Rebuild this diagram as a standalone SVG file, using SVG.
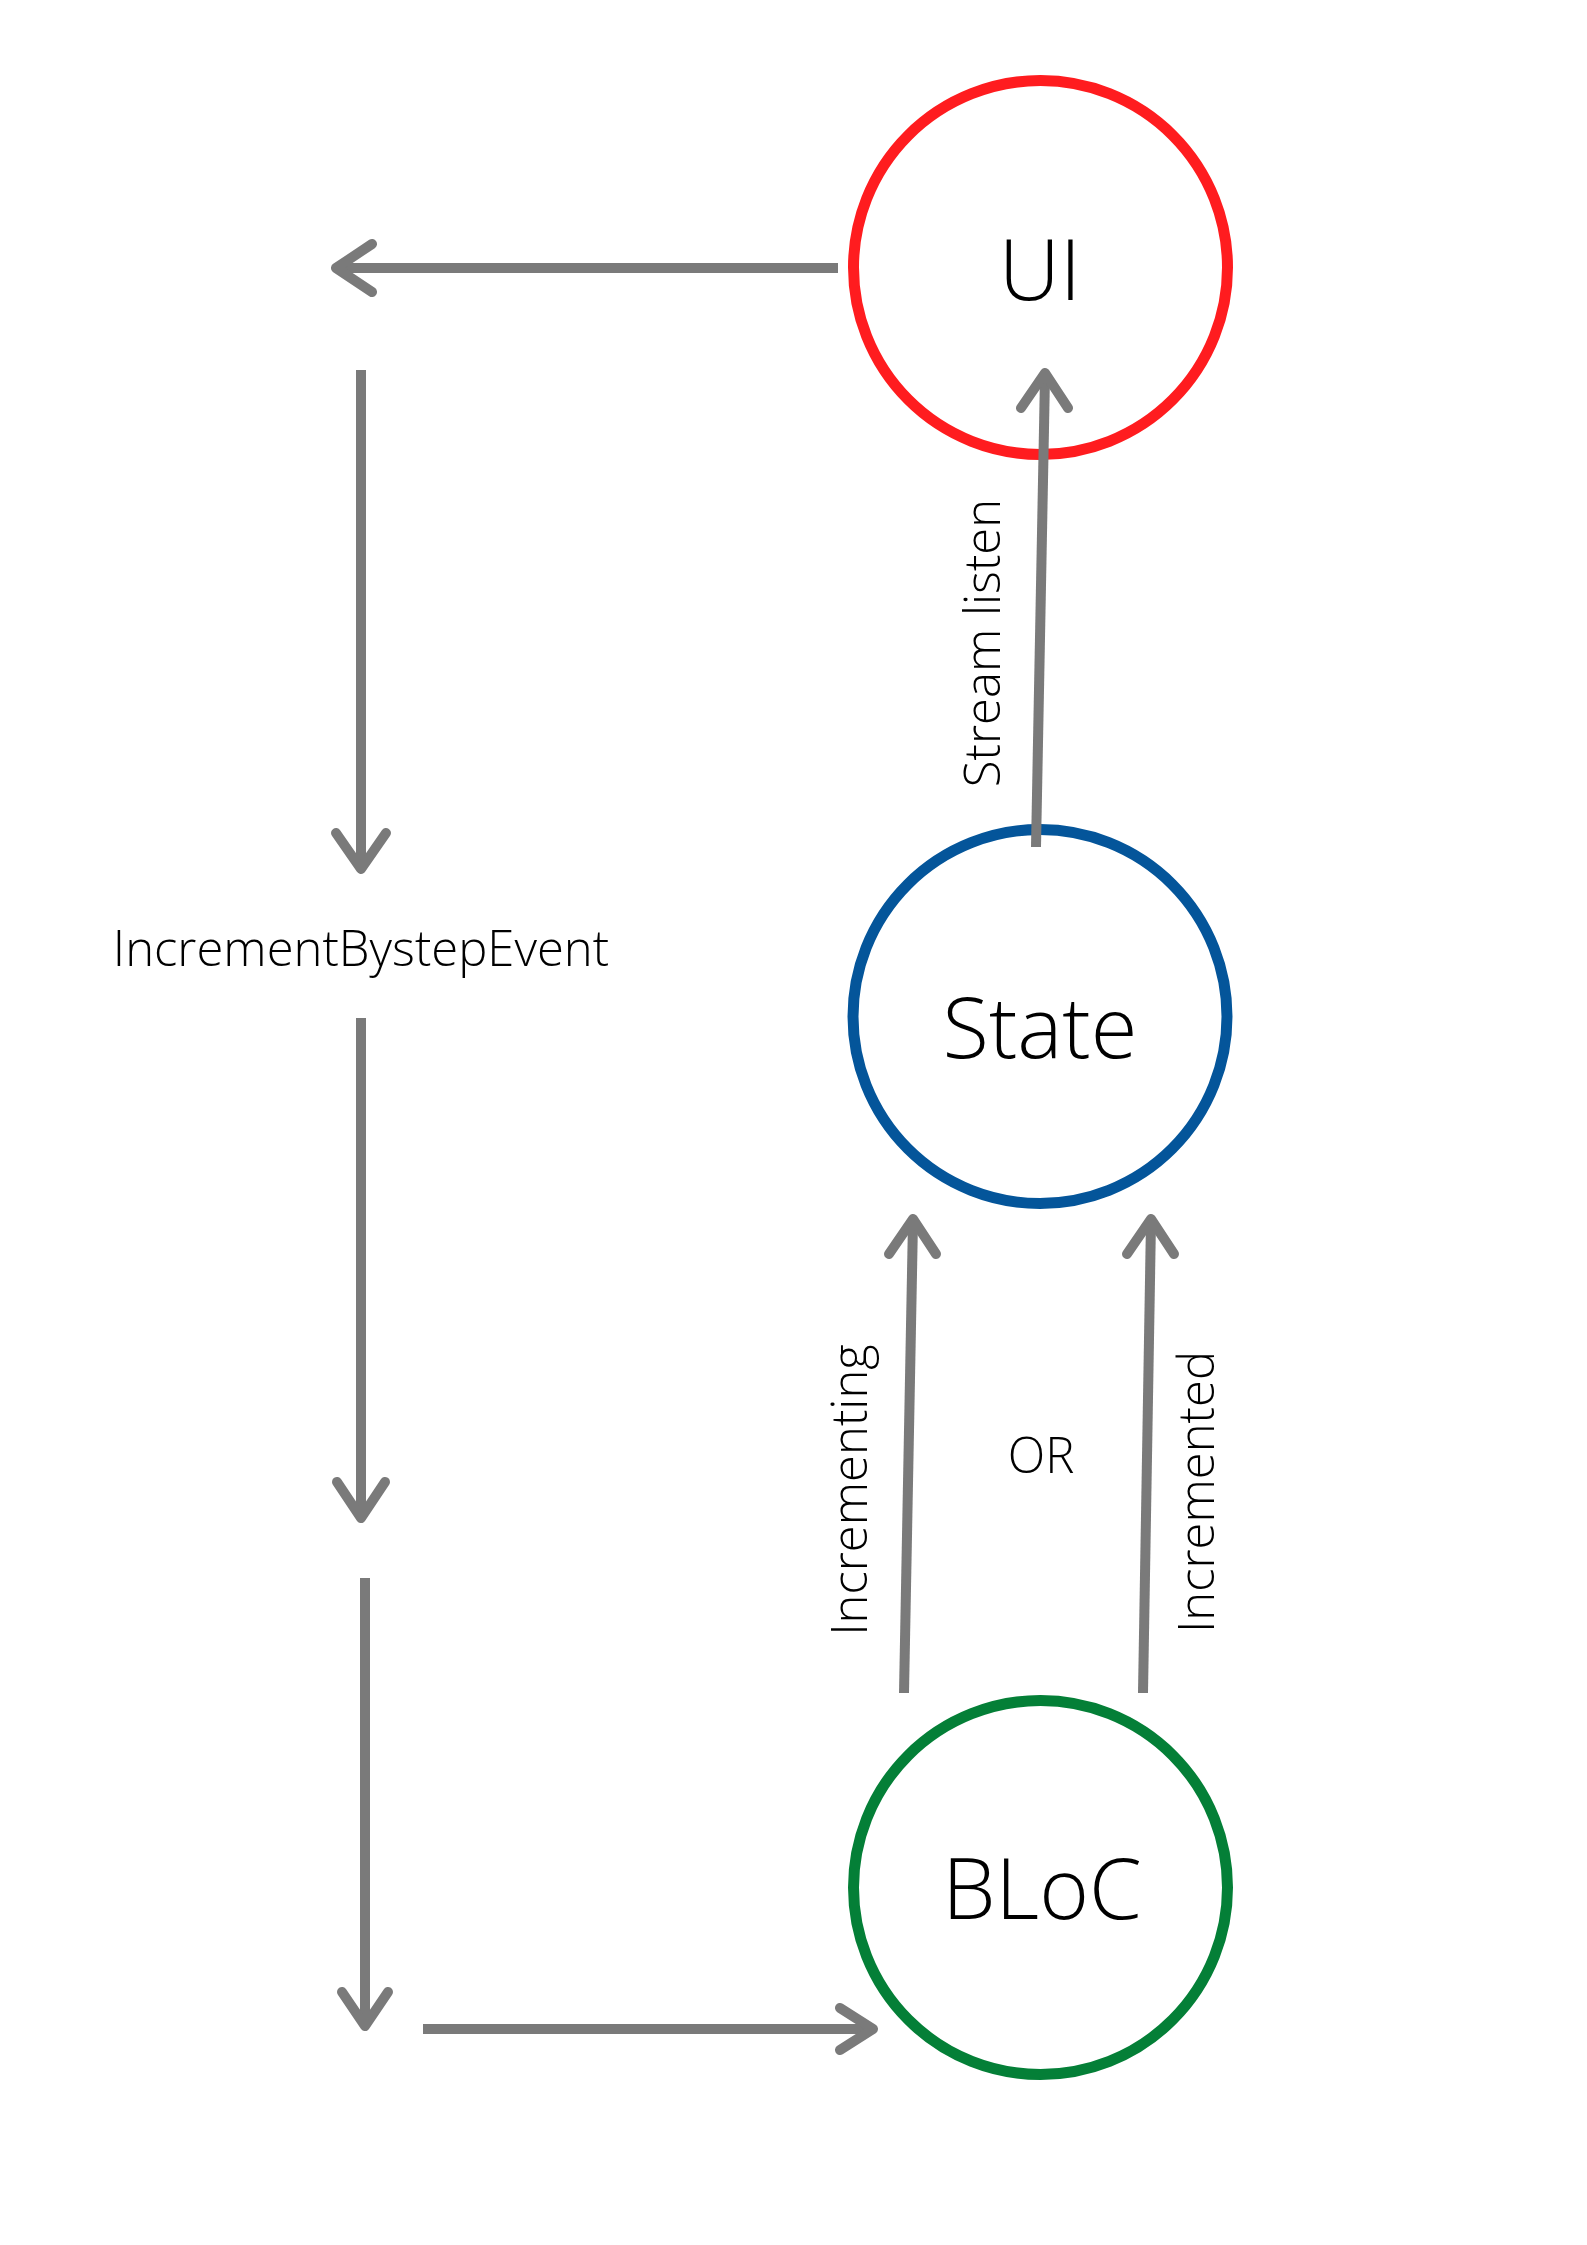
<svg xmlns="http://www.w3.org/2000/svg" width="1587" height="2245" viewBox="0 0 1587 2245">
  <style>
    .node { fill: #ffffff; stroke-width: 11; }
    .lbl { font-family: "Open Sans", "Noto Sans", "DejaVu Sans", sans-serif; font-weight: 300; fill: #000000; text-anchor: middle; }
    .big { font-size: 85px; }
    .small { font-size: 49px; }
    .line { stroke: #7a7a7a; stroke-width: 10; fill: none; stroke-linecap: butt; }
    .head { stroke: #7a7a7a; stroke-width: 10; fill: none; stroke-linecap: round; stroke-linejoin: round; }
  </style>
  <rect width="1587" height="2245" fill="#ffffff"/>

  <g id="node-ui">
    <circle class="node" cx="1040.5" cy="267.5" r="187" stroke="#ff1c1f"/>
    <text class="lbl big" x="1040" y="300">UI</text>
  </g>
  <g id="node-state">
    <circle class="node" cx="1040" cy="1016.5" r="187" stroke="#04559a"/>
    <text class="lbl big" x="1040" y="1058">State</text>
  </g>
  <g id="node-bloc">
    <circle class="node" cx="1040.5" cy="1887.5" r="187" stroke="#047f37"/>
    <text class="lbl big" x="1042" y="1919">BLoC</text>
  </g>

  <g id="connectors">
    <!-- UI -> left -->
    <line class="line" x1="838" y1="268" x2="337" y2="268"/>
    <polyline class="head" points="372,244 336,268 372,292"/>
    <!-- down 1 -->
    <line class="line" x1="361" y1="370" x2="361" y2="868"/>
    <polyline class="head" points="336,833 361,869 386,833"/>
    <!-- down 2 -->
    <line class="line" x1="361" y1="1018" x2="361" y2="1516"/>
    <polyline class="head" points="337,1482 361,1518 385,1482"/>
    <!-- down 3 -->
    <line class="line" x1="365" y1="1578" x2="365" y2="2024"/>
    <polyline class="head" points="342,1992 365,2026 388,1992"/>
    <!-- right to BLoC -->
    <line class="line" x1="423" y1="2029" x2="871" y2="2029"/>
    <polyline class="head" points="840,2008 873,2029 840,2050"/>
    <!-- Stream listen -->
    <line class="line" x1="1036" y1="847" x2="1045" y2="376"/>
    <polyline class="head" points="1021,408 1045,373 1068,408"/>
    <!-- Incrementing -->
    <line class="line" x1="904" y1="1693" x2="913" y2="1221"/>
    <polyline class="head" points="889,1254 913,1219 936,1254"/>
    <!-- Incremented -->
    <line class="line" x1="1143" y1="1693" x2="1151" y2="1221"/>
    <polyline class="head" points="1127,1254 1151,1219 1174,1254"/>
  </g>

  <g id="labels">
    <text class="lbl small" x="361" y="966">IncrementBystepEvent</text>
    <text class="lbl small" transform="translate(1000,643) rotate(-90)">Stream listen</text>
    <text class="lbl small" transform="translate(867,1490) rotate(-90)">Incrementing</text>
    <text class="lbl small" transform="translate(1214,1492) rotate(-90)">Incremented</text>
    <text class="lbl small" x="1041" y="1473">OR</text>
  </g>
</svg>
